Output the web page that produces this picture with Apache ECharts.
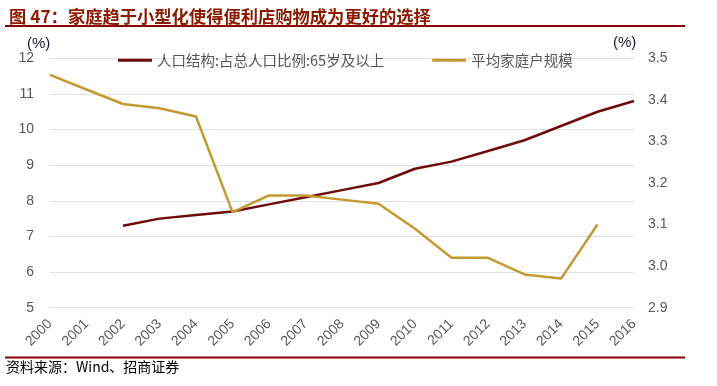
<!DOCTYPE html>
<html><head><meta charset="utf-8">
<script src="https://cdn.jsdelivr.net/npm/echarts@6/dist/echarts.min.js"></script>
<style>html,body{margin:0;padding:0;background:#fff}#c{width:717px;height:386px}</style>
</head><body><div id="c"></div>
<script>
const years = ['2000','2001','2002','2003','2004','2005','2006','2007','2008','2009','2010','2011','2012','2013','2014','2015','2016'];
const elderlyShare = [null,null,7.3,7.5,7.6,7.7,7.9,8.1,8.3,8.5,8.9,9.1,9.4,9.7,10.1,10.5,10.8];
const householdSize = [3.46,3.425,3.39,3.38,3.36,3.13,3.17,3.17,3.16,3.15,3.09,3.02,3.02,2.98,2.97,3.10,null];
const seriesNames = ['人口结构:占总人口比例:65岁及以上','平均家庭户规模'];
const titleText = '图 47：家庭趋于小型化使得便利店购物成为更好的选择';
const sourceText = '资料来源：Wind、招商证券';

const chart = echarts.init(document.getElementById('c'));
const axisLbl = {color:'#595959', fontSize:14, fontFamily:'Liberation Sans, Arial'};
chart.setOption({
  animation:false,
  title:{text:titleText, left:4, top:3, textStyle:{color:'#8B1A00', fontSize:17.3, fontWeight:'bold', fontFamily:'Noto Sans CJK SC'}},
  graphic:[
    {type:'line', shape:{x1:5,y1:26,x2:685,y2:26}, style:{stroke:'#8B0000', lineWidth:2}},
    {type:'line', shape:{x1:5,y1:357.5,x2:685,y2:357.5}, style:{stroke:'#8B0000', lineWidth:2}},
    {type:'text', left:6, top:360, style:{text:sourceText, fill:'#000', fontSize:14, fontFamily:'Noto Sans CJK SC'}},
    {type:'text', left:27, top:36, style:{text:'(%)', fill:'#1a1a2e', fontSize:15, fontFamily:'Liberation Sans, Arial'}},
    {type:'text', left:613, top:35, style:{text:'(%)', fill:'#1a1a2e', fontSize:15, fontFamily:'Liberation Sans, Arial'}}
  ],
  legend:{
    top:48, left:113, itemGap:48, itemWidth:34, itemHeight:3,
    icon:'rect',
    textStyle:{color:'#555', fontSize:14.5, fontFamily:'Noto Sans CJK SC'},
    data:seriesNames
  },
  grid:{left:50, right:83, top:58.3, bottom:78.3},
  xAxis:{type:'category', data:years, boundaryGap:false,
    axisLine:{show:false}, axisTick:{show:false},
    axisLabel:{rotate:45, margin:14, fontSize:14, color:'#595959', fontFamily:'Liberation Sans, Arial'}},
  yAxis:[
    {type:'value', min:5, max:12, interval:1, position:'left',
      axisLine:{show:false}, axisTick:{show:false}, axisLabel:Object.assign({margin:16}, axisLbl),
      splitLine:{lineStyle:{color:'#e0e0e0', width:1}}},
    {type:'value', min:2.9, max:3.5, interval:0.1, position:'right',
      axisLine:{show:false}, axisTick:{show:false},
      axisLabel:Object.assign({margin:14, formatter:v=>v.toFixed(1)}, axisLbl),
      splitLine:{show:false}}
  ],
  series:[
    {name:seriesNames[0], type:'line', data:elderlyShare, yAxisIndex:0, symbol:'none',
      lineStyle:{color:'#6E0A0A', width:2.5}, itemStyle:{color:'#6E0A0A'}},
    {name:seriesNames[1], type:'line', data:householdSize, yAxisIndex:1, symbol:'none',
      lineStyle:{color:'#C49A30', width:2.5}, itemStyle:{color:'#C49A30'}}
  ]
});
</script></body></html>
